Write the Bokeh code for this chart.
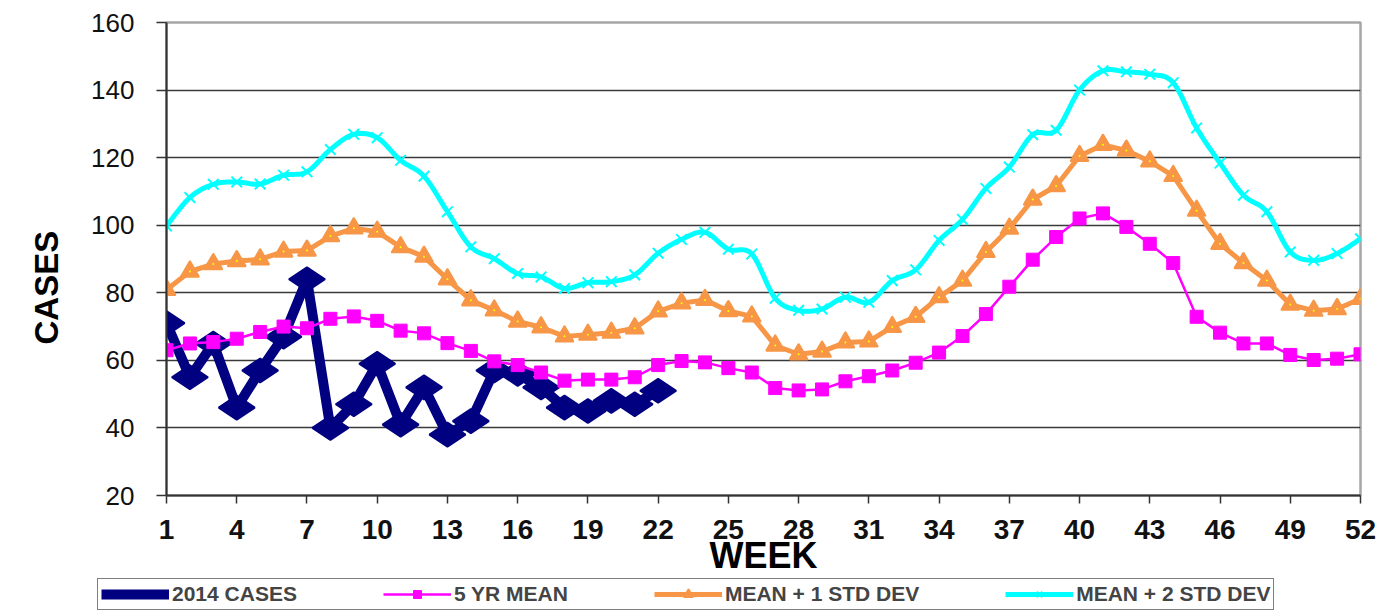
import numpy as np
from bokeh.plotting import figure
from bokeh.models import Range1d, FixedTicker, Legend, LegendItem, Title
from bokeh.embed import file_html
from bokeh.resources import INLINE

# ---------------- data ----------------
weeks = list(range(1, 53))
weeks_2014 = list(range(1, 23))
cases_2014 = [71, 55, 65, 46, 57, 67, 84, 40, 47, 59, 41, 52, 38, 42, 57, 56, 52, 46, 45, 48, 47, 51]
mean_5yr = [63, 65, 65.4, 66.4, 68.4, 70, 69.5, 72.3, 73, 71.7, 68.8, 68, 65.1, 62.8, 59.7, 58.6,
            56.4, 54, 54.3, 54.3, 55, 58.6, 59.8, 59.4, 57.7, 56.4, 51.8, 51.1, 51.4, 53.8, 55.3,
            57, 59.3, 62.3, 67.2, 73.7, 81.8, 89.8, 96.5, 102, 103.5, 99.5, 94.5, 88.8, 72.9,
            68.2, 65, 65, 61.6, 60.1, 60.5, 61.8]
mean_plus_1sd = [80.9, 86.3, 88.5, 89.4, 89.9, 92.2, 92.5, 96.8, 99.1, 98.1, 93.5, 90.7, 84, 77.8,
                 74.8, 71.5, 69.8, 67.1, 67.6, 68.2, 69.5, 74.5, 76.9, 77.9, 74.6, 73, 64.4, 61.8,
                 62.6, 65.3, 65.6, 69.9, 72.9, 78.7, 83.6, 92.1, 99, 107.6, 111.6, 120.5, 123.8,
                 122.1, 118.9, 114.6, 104.3, 94.5, 88.8, 83.6, 76.5, 74.7, 75.2, 78.2]
mean_plus_2sd = [99.8, 108.2, 112.1, 112.8, 112.2, 114.8, 115.8, 122.4, 126.9, 125.9, 119.2, 114.5,
                 104, 93.6, 90.1, 85.7, 84.7, 81.3, 83, 83.3, 85.3, 91.7, 95.8, 97.9, 92.9, 91.5,
                 78.4, 74.8, 75.2, 78.7, 77.2, 83.6, 86.8, 95.5, 101.7, 110.9, 117.2, 126.8, 128.1,
                 140, 145.7, 145.4, 144.7, 142.2, 128.8, 118.4, 108.9, 104, 92.1, 89.6, 91.6, 96]
x_ticks = list(range(1, 53, 3))
y_ticks = list(range(20, 161, 20))
series_names = ["2014 CASES", "5 YR MEAN", "MEAN + 1 STD DEV", "MEAN + 2 STD DEV"]
x_title = "WEEK"
y_title = "CASES"


def smooth_curve(xs, ys, n=12):
    """Bezier smoothing through the data points (like a spreadsheet 'smoothed line')."""
    pts = list(zip(xs, ys))
    ox, oy = [], []
    m = len(pts)
    for i in range(m - 1):
        p0 = pts[i - 1] if i > 0 else pts[i]
        p1 = pts[i]
        p2 = pts[i + 1]
        p3 = pts[i + 2] if i + 2 < m else pts[i + 1]
        c1 = (p1[0] + (p2[0] - p0[0]) / 6.0, p1[1] + (p2[1] - p0[1]) / 6.0)
        c2 = (p2[0] - (p3[0] - p1[0]) / 6.0, p2[1] - (p3[1] - p1[1]) / 6.0)
        ts = np.linspace(0, 1, n, endpoint=(i == m - 2))
        for t in ts:
            a = (1 - t) ** 3
            b = 3 * (1 - t) ** 2 * t
            c = 3 * (1 - t) * t ** 2
            d = t ** 3
            ox.append(a * p1[0] + b * c1[0] + c * c2[0] + d * p2[0])
            oy.append(a * p1[1] + b * c1[1] + c * c2[1] + d * p2[1])
    return ox, oy


FONT = "Liberation Sans"
navy = "#000080"
mag = "#FF00FF"
org = "#F79646"
cyan = "#00FFFF"


def draw_series(fig, with_dots=True):
    r1l = fig.line(weeks_2014, cases_2014, line_color=navy, line_width=10, line_join="round")
    r1m = fig.scatter(weeks_2014, cases_2014, marker="diamond", angle=np.pi / 2, size=36,
                      fill_color=navy, line_color=navy, line_width=2)
    r2l = fig.line(weeks, mean_5yr, line_color=mag, line_width=2.5)
    r2m = fig.scatter(weeks, mean_5yr, marker="square", size=13, fill_color=mag,
                      line_color=mag, line_width=1)
    r3l = fig.line(weeks, mean_plus_1sd, line_color=org, line_width=5, line_join="round")
    r3m = fig.scatter(weeks, mean_plus_1sd, marker="triangle", size=17, fill_color=org,
                      line_color=org, line_width=2.5, line_join="round")
    if with_dots:
        fig.scatter(weeks, mean_plus_1sd, marker="circle", size=2, fill_color="#FFFF00",
                    line_color=None)
    sx, sy = smooth_curve(weeks, mean_plus_2sd)
    r4l = fig.line(sx, sy, line_color=cyan, line_width=5, line_join="round")
    r4m = fig.scatter(weeks, mean_plus_2sd, marker="x", size=15, line_color=cyan, line_width=2)
    return [(r1l, r1m), (r2l, r2m), (r3l, r3m), (r4l, r4m)]


# ---------------- main chart ----------------
p = figure(width=1376, height=578, x_range=Range1d(1, 52), y_range=Range1d(20, 160),
           output_backend="svg", toolbar_location=None,
           min_border_left=166, min_border_right=16, min_border_top=22, min_border_bottom=82)
p.background_fill_color = "white"
p.border_fill_color = "white"
p.outline_line_color = "#A6A6A6"
p.outline_line_width = 2.5

p.xaxis.ticker = FixedTicker(ticks=x_ticks)
p.yaxis.ticker = FixedTicker(ticks=y_ticks)
for ax in (p.xaxis, p.yaxis):
    ax.axis_line_color = "#333333"
    ax.axis_line_width = 2
    ax.major_tick_line_color = "#333333"
    ax.major_tick_line_width = 1.5
    ax.major_tick_in = 0
    ax.minor_tick_line_color = None
    ax.major_label_text_font = FONT
    ax.major_label_text_color = "#111111"
    ax.axis_label_text_font = FONT
    ax.axis_label_text_font_style = "bold"
    ax.axis_label_text_color = "#000000"

p.yaxis.major_tick_out = 10
p.yaxis.major_label_text_font_size = "26px"
p.yaxis.major_label_standoff = 22

p.xaxis.major_tick_out = 8
p.xaxis.major_label_text_font_size = "28px"
p.xaxis.major_label_text_font_style = "bold"
p.xaxis.major_label_standoff = 16
p.xaxis.axis_label = x_title
p.xaxis.axis_label_text_font_size = "36px"
p.xaxis.axis_label_standoff = -7

ytitle = Title(text=y_title, align="left", offset=151, standoff=47,
               text_font=FONT, text_font_style="bold", text_font_size="33px",
               text_color="#000000")
p.add_layout(ytitle, "left")

p.xgrid.grid_line_color = None
p.ygrid.grid_line_color = "#3a3a3a"
p.ygrid.grid_line_width = 1.3

draw_series(p)

# ---------------- legend strip ----------------
lg = figure(width=1376, height=32, x_range=Range1d(-10, -9), y_range=Range1d(0, 1),
            output_backend="svg", toolbar_location=None,
            x_axis_location=None, y_axis_location=None,
            min_border=0, min_border_left=0, min_border_right=0,
            min_border_top=0, min_border_bottom=0)
lg.outline_line_color = None
lg.grid.grid_line_color = None
lg.background_fill_color = "white"
lg.border_fill_color = "white"
pairs = draw_series(lg, with_dots=False)

legend = Legend(items=[LegendItem(label=name, renderers=list(pr))
                       for name, pr in zip(series_names, pairs)],
                orientation="horizontal", location=(97, 0))
legend.border_line_color = "#000000"
legend.border_line_width = 1.5
legend.background_fill_color = "white"
legend.background_fill_alpha = 1
legend.padding = 3
legend.margin = 0
legend.spacing = 86
legend.glyph_width = 68
legend.glyph_height = 20
legend.label_standoff = 3
legend.label_text_font = FONT
legend.label_text_font_style = "bold"
legend.label_text_font_size = "21px"
lg.add_layout(legend, "center")

open("out.html", "w").write(file_html([p, lg], INLINE))
